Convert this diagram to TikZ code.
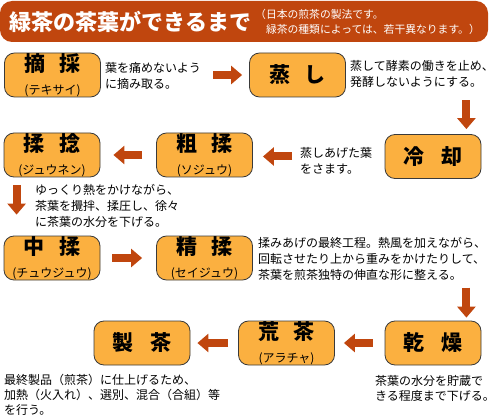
\documentclass[tikz,border=0pt]{standalone}
\usepackage{fontspec}
\setmainfont{Noto Sans CJK JP}
\usepackage{xcolor}
\usepackage{tikz}
\usetikzlibrary{calc,arrows.meta}
\definecolor{rust}{HTML}{C0460E}
\definecolor{amber}{HTML}{FBB040}
\definecolor{edge}{HTML}{3A3A3A}
\tikzset{
  banner/.style={fill=rust, rounded corners=12pt},
  stage/.style={draw=edge, fill=amber, line width=0.8pt, rounded corners=10pt, minimum width=96pt, minimum height=44pt, inner sep=0pt, align=center, font=\bfseries\fontsize{21}{23}\selectfont},
  note/.style={anchor=north west, inner sep=0pt, align=left, font=\fontsize{12}{16}\selectfont},
  flow/.style={draw=rust, line width=8pt, -{Triangle[width=18pt,length=11pt]}},
}
\begin{document}
\begin{tikzpicture}[x=1pt,y=-1pt]
  \useasboundingbox (0,0) rectangle (501,417);
  \path[banner] (0,1) rectangle (488,42);
  \node[anchor=west, text=white, font=\bfseries\fontsize{22}{22}\selectfont] (title) at (6,22) {緑茶の茶葉ができるまで};
  \node[anchor=north west, inner sep=0pt, align=left, text=white, font=\fontsize{10.8}{14.5}\selectfont] (sub) at (255,9.5) {（日本の煎茶の製法です。\\　緑茶の種類によっては、若干異なります。）};

  \node[stage] (tekisai) at (52.5,75) {摘\hspace{15pt}採\\{\mdseries\fontsize{12}{12}\selectfont (テキサイ)}};
  \node[stage] (mushi) at (297.5,75) {蒸\hspace{15pt}し};
  \node[stage] (reikyaku) at (433,156.5) {冷\hspace{17pt}却};
  \node[stage] (sojuu) at (204.5,155) {粗\hspace{15pt}揉\\{\mdseries\fontsize{12}{12}\selectfont (ソジュウ)}};
  \node[stage] (juunen) at (52,155) {揉\hspace{15pt}捻\\{\mdseries\fontsize{12}{12}\selectfont (ジュウネン)}};
  \node[stage] (chuujuu) at (52,258) {中\hspace{15pt}揉\\{\mdseries\fontsize{12}{12}\selectfont (チュウジュウ)}};
  \node[stage] (seijuu) at (204.5,258) {精\hspace{15pt}揉\\{\mdseries\fontsize{12}{12}\selectfont (セイジュウ)}};
  \node[stage] (kansou) at (433,343) {乾\hspace{17pt}燥};
  \node[stage] (aracha) at (286.5,343) {荒\hspace{15pt}茶\\{\mdseries\fontsize{12}{12}\selectfont (アラチャ)}};
  \node[stage] (seicha) at (142,343) {製\hspace{17pt}茶};

  \node[note] (d_tekisai) at (105,62) {葉を痛めないよう\\に摘み取る。};
  \node[note] (d_mushi) at (350,60) {蒸して酵素の働きを止め、\\発酵しないようにする。};
  \node[note] (d_reikyaku) at (300,147) {蒸しあげた葉\\をさます。};
  \node[note] (d_juunen) at (35,184) {ゆっくり熱をかけながら、\\茶葉を攪拌、揉圧し、徐々\\に茶葉の水分を下げる。};
  \node[note] (d_seijuu) at (258,237) {揉みあげの最終工程。熱風を加えながら、\\回転させたり上から重みをかけたりして、\\茶葉を煎茶独特の伸直な形に整える。};
  \node[note, font=\fontsize{12}{15}\selectfont] (d_kansou) at (375,375) {茶葉の水分を貯蔵で\\きる程度まで下げる。};
  \node[note, font=\fontsize{12}{15}\selectfont] (d_seicha) at (4,374) {最終製品（煎茶）に仕上げるため、\\加熱（火入れ）、選別、混合（合組）等\\を行う。};

  \coordinate (rk_in) at ($(reikyaku.north east)+(-15,0)$);
  \coordinate (ks_in) at ($(kansou.north east)+(-15,0)$);
  \coordinate (jn_out) at ($(juunen.south west)+(13,0)$);
  \draw[flow, shorten <=12pt, shorten >=7pt] (d_tekisai.east |- mushi.west) -- (mushi.west);
  \draw[flow, shorten <=3pt, shorten >=5pt] (rk_in |- mushi.south) -- (rk_in);
  \draw[flow, shorten <=8pt, shorten >=10pt] (d_reikyaku.west |- reikyaku.west) -- (sojuu.east |- reikyaku.west);
  \draw[flow, shorten <=14pt, shorten >=13pt] (sojuu.west) -- (juunen.east);
  \draw[flow, shorten <=8pt, shorten >=21pt] (jn_out) -- (jn_out |- chuujuu.north);
  \draw[flow, shorten <=12pt, shorten >=14pt] (chuujuu.east) -- (seijuu.west);
  \draw[flow, shorten <=7pt, shorten >=3pt] (ks_in |- d_seijuu.south) -- (ks_in);
  \draw[flow, shorten <=12pt, shorten >=9pt] (kansou.west) -- (aracha.east);
  \draw[flow, shorten <=10pt, shorten >=7pt] (aracha.west) -- (seicha.east);
\end{tikzpicture}
\end{document}
